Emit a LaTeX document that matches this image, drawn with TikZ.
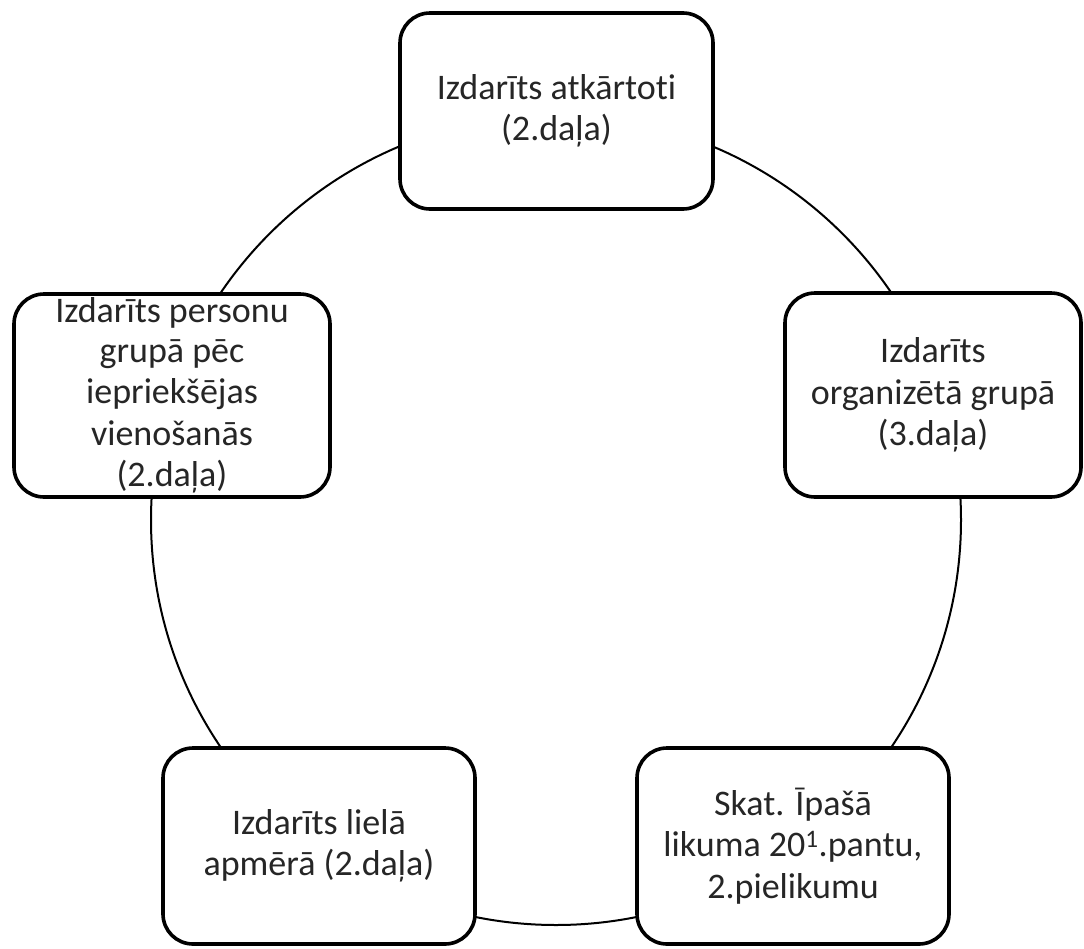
\documentclass[tikz,border=0pt]{standalone}
\usepackage{fontspec}
\setmainfont[Ligatures=NoCommon]{Carlito}
\usetikzlibrary{backgrounds}
\begin{document}
\begin{tikzpicture}[x=1pt,y=1pt,
  stagebox/.style={draw=black, line width=3.6pt, rounded corners=30pt, fill=white,
    align=center, inner sep=0pt, text=black!85,
    font=\fontsize{36}{41.5}\selectfont},
  cycleline/.style={draw=black, line width=2pt}]
\useasboundingbox (0,0) rectangle (1084,-948);
\coordinate (c) at (556,-520);
\node[stagebox, minimum width=313pt, minimum height=196pt] (top) at (556.5,-111)
  {Izdarīts atkārtoti\\(2.daļa)};
\node[stagebox, minimum width=296pt, minimum height=204pt] (right) at (933,-395)
  {Izdarīts\\organizētā grupā\\(3.daļa)};
\node[stagebox, minimum width=316pt, minimum height=203pt] (left) at (172,-395.5)
  {\raisebox{-2pt}{Izdarīts personu}\\grupā pēc\\iepriekšējas\\vienošanās\\(2.daļa)};
\node[stagebox, minimum width=312pt, minimum height=196pt] (bl) at (319,-846)
  {Izdarīts lielā\\apmērā (2.daļa)};
\node[stagebox, minimum width=312pt, minimum height=196pt] (br) at (793,-846)
  {Skat. Īpašā\\likuma 20\textsuperscript{1}.pantu,\\2.pielikumu};
\begin{scope}[on background layer]
  \draw[cycleline] (c) circle[radius=405pt];
\end{scope}
\end{tikzpicture}
\end{document}
